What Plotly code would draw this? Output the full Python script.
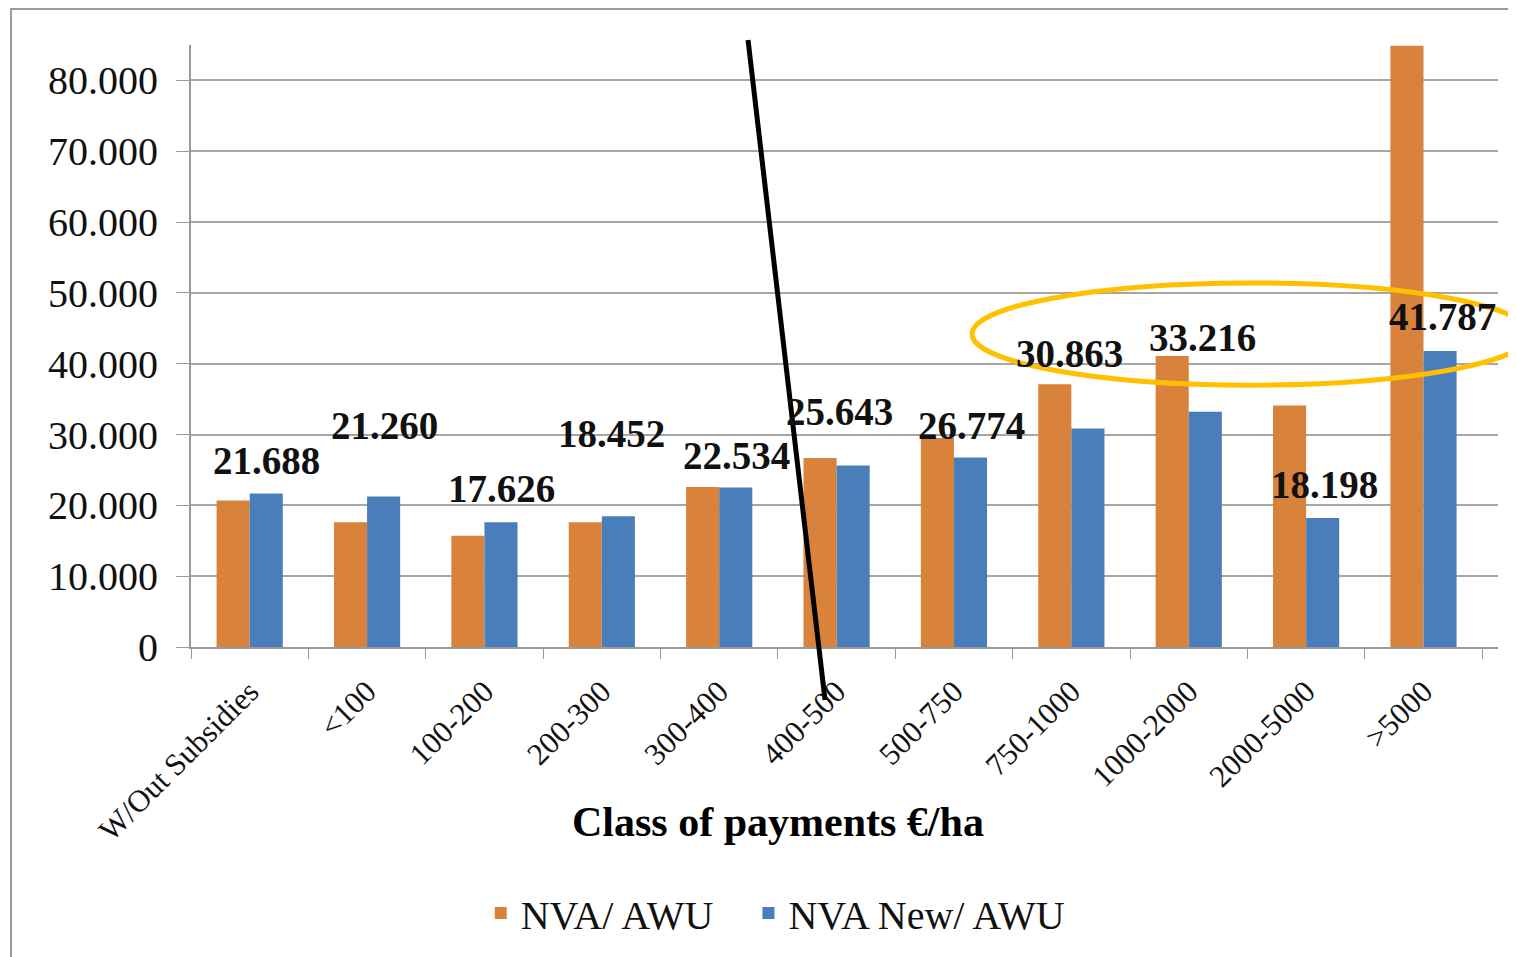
import plotly.graph_objects as go

categories = ["W/Out Subsidies", "<100", "100-200", "200-300", "300-400", "400-500",
              "500-750", "750-1000", "1000-2000", "2000-5000", ">5000"]
nva_awu = [20700, 17600, 15700, 17600, 22600, 26700, 29500, 37100, 41100, 34100, 84900]
nva_new_awu = [21688, 21260, 17626, 18452, 22534, 25643, 26774, 30863, 33216, 18198, 41787]
label_texts = ["21.688", "21.260", "17.626", "18.452", "22.534", "25.643",
               "26.774", "30.863", "33.216", "18.198", "41.787"]
y_tickvals = [0, 10000, 20000, 30000, 40000, 50000, 60000, 70000, 80000]
y_ticktext = ["0", "10.000", "20.000", "30.000", "40.000", "50.000", "60.000", "70.000", "80.000"]

# manual label placement (layout, not data): y position and horizontal shift
label_y = [26400, 31300, 22400, 30200, 27100, 33200, 31300, 41500, 43700, 22900, 46700]
label_dx = [17, 17, 17, 10, 17, 3, 18, -2, 14, 18, 19]

ORANGE = "#D9823B"
BLUE = "#4A7EBB"
SERIF = "Liberation Serif"
PAD = "\u00a0" * 3

fig = go.Figure()
fig.add_trace(go.Bar(x=categories, y=nva_awu, name="NVA/ AWU" + PAD, marker_color=ORANGE,
                     marker_line_width=0))
fig.add_trace(go.Bar(x=categories, y=nva_new_awu, name="NVA New/ AWU", marker_color=BLUE,
                     marker_line_width=0))

for c, t, yy, dx in zip(categories, label_texts, label_y, label_dx):
    fig.add_annotation(x=c, y=yy, text=f"<b>{t}</b>", showarrow=False, xshift=dx,
                       font=dict(family=SERIF, size=39, color="#111"))

fig.add_annotation(xref="paper", yref="paper", x=0.449, y=-0.2907, xanchor="center",
                   yanchor="middle", text="<b>Class of payments €/ha</b>", showarrow=False,
                   font=dict(family=SERIF, size=42, color="#000"))

# outer frame
fig.add_shape(type="rect", xref="paper", yref="paper", x0=-0.1377, y0=-0.52, x1=1.03, y1=1.0598,
              line=dict(color="#9a9a9a", width=2), layer="below")
# black line
fig.add_shape(type="line", xref="paper", yref="paper", x0=0.4262, y0=1.0083, x1=0.4851, y1=-0.088,
              line=dict(color="#000", width=5))
# yellow ellipse
fig.add_shape(type="circle", xref="paper", yref="paper", x0=0.5976, y0=0.435, x1=1.0245, y1=0.6047,
              line=dict(color="#FFC000", width=5))

fig.update_layout(
    width=1508, height=949,
    margin=dict(l=183, r=18, t=37, b=310),
    paper_bgcolor="white", plot_bgcolor="white",
    barmode="group", bargap=0.436, bargroupgap=0,
    showlegend=True,
    legend=dict(orientation="h", x=0.447, xanchor="center", y=-0.442, yanchor="middle",
                font=dict(family=SERIF, size=40, color="#111")),
    font=dict(family=SERIF, color="#111"),
)
fig.update_xaxes(
    type="category", tickangle=-45, tickson="boundaries", ticks="outside", ticklen=10,
    tickcolor="#999", showline=True, linecolor="#999", linewidth=2, showgrid=False,
    ticklabelstandoff=12,
    tickfont=dict(family=SERIF, size=31, color="#111"),
)
fig.update_yaxes(
    range=[0, 85000], tickvals=y_tickvals, ticktext=y_ticktext, ticks="outside", ticklen=13,
    tickcolor="#999", showline=True, linecolor="#999", linewidth=2, showgrid=True,
    gridcolor="#a6a6a6", gridwidth=1.5, zeroline=False, ticklabelstandoff=10,
    tickfont=dict(family=SERIF, size=40, color="#111"),
)
fig.write_html("out.html")
